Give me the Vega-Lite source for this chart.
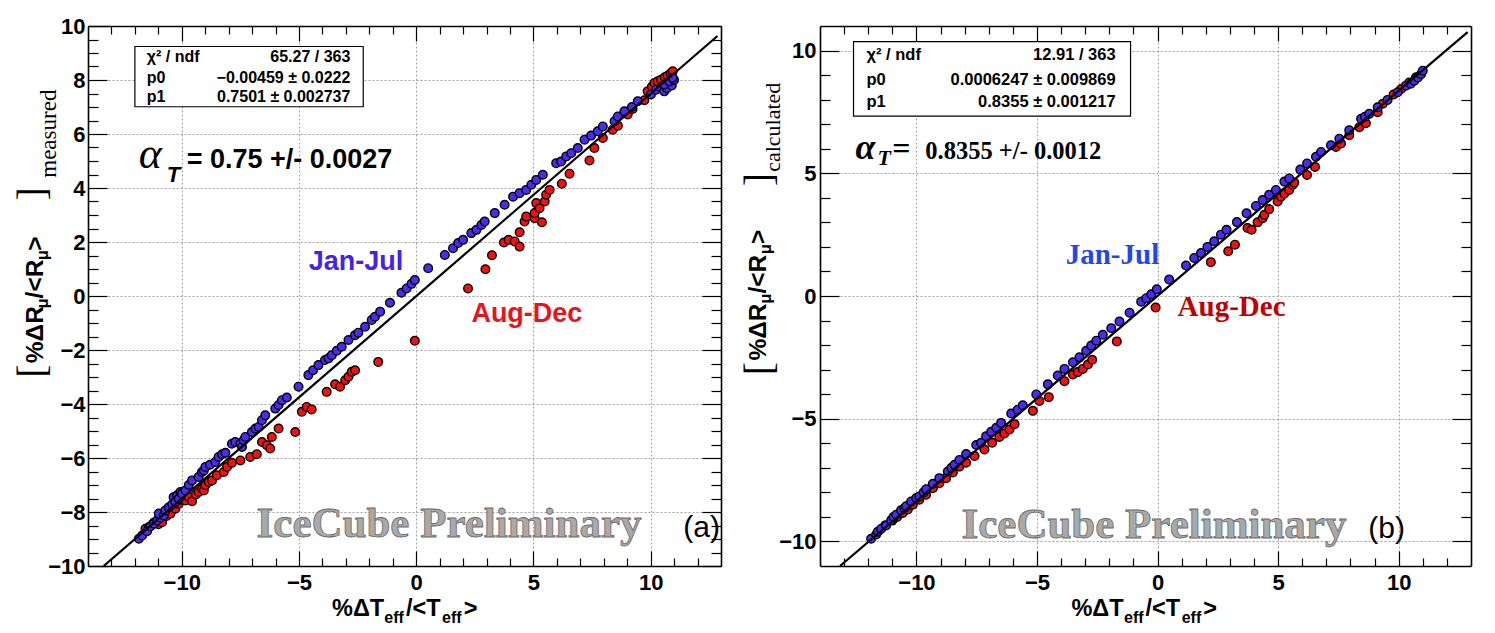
{
  "$schema": "https://vega.github.io/schema/vega-lite/v6.json",
  "padding": {"left": 13, "top": 15, "right": 5, "bottom": 5},
  "bounds": "flush",
  "spacing": 99,
  "config": {
    "view": {"stroke": null},
    "font": "Liberation Sans",
    "axis": {
      "domainColor": "black",
      "domainWidth": 1.6,
      "tickColor": "black",
      "tickWidth": 1.2,
      "labelColor": "black",
      "labelFont": "Liberation Sans",
      "labelFontWeight": "bold",
      "labelFontSize": 22,
      "labelFlush": false,
      "labelOverlap": false,
      "labelBound": false,
      "grid": false,
      "gridColor": "#a0a0a0",
      "gridDash": [2, 2],
      "gridWidth": 1
    }
  },
  "datasets": {
    "points_a": [
      {"x": -11.55, "y": -8.62, "period": "Aug-Dec"},
      {"x": -11.4, "y": -8.56, "period": "Aug-Dec"},
      {"x": -11.2, "y": -8.4, "period": "Aug-Dec"},
      {"x": -11.0, "y": -8.45, "period": "Aug-Dec"},
      {"x": -10.84, "y": -8.38, "period": "Aug-Dec"},
      {"x": -10.65, "y": -8.15, "period": "Aug-Dec"},
      {"x": -10.48, "y": -8.06, "period": "Aug-Dec"},
      {"x": -10.27, "y": -7.88, "period": "Aug-Dec"},
      {"x": -10.13, "y": -7.69, "period": "Aug-Dec"},
      {"x": -10.0, "y": -7.55, "period": "Aug-Dec"},
      {"x": -9.84, "y": -7.57, "period": "Aug-Dec"},
      {"x": -9.7, "y": -7.45, "period": "Aug-Dec"},
      {"x": -9.56, "y": -7.6, "period": "Aug-Dec"},
      {"x": -9.4, "y": -7.35, "period": "Aug-Dec"},
      {"x": -9.28, "y": -7.26, "period": "Aug-Dec"},
      {"x": -9.14, "y": -7.14, "period": "Aug-Dec"},
      {"x": -9.06, "y": -7.2, "period": "Aug-Dec"},
      {"x": -8.99, "y": -7.01, "period": "Aug-Dec"},
      {"x": -8.85, "y": -6.89, "period": "Aug-Dec"},
      {"x": -8.71, "y": -6.83, "period": "Aug-Dec"},
      {"x": -8.5, "y": -6.64, "period": "Aug-Dec"},
      {"x": -8.21, "y": -6.52, "period": "Aug-Dec"},
      {"x": -8.07, "y": -6.33, "period": "Aug-Dec"},
      {"x": -7.86, "y": -6.18, "period": "Aug-Dec"},
      {"x": -7.5, "y": -6.09, "period": "Aug-Dec"},
      {"x": -7.08, "y": -5.96, "period": "Aug-Dec"},
      {"x": -6.8, "y": -5.86, "period": "Aug-Dec"},
      {"x": -6.58, "y": -5.41, "period": "Aug-Dec"},
      {"x": -6.37, "y": -5.53, "period": "Aug-Dec"},
      {"x": -6.23, "y": -5.65, "period": "Aug-Dec"},
      {"x": -6.16, "y": -5.22, "period": "Aug-Dec"},
      {"x": -5.87, "y": -4.91, "period": "Aug-Dec"},
      {"x": -5.16, "y": -5.04, "period": "Aug-Dec"},
      {"x": -4.88, "y": -4.29, "period": "Aug-Dec"},
      {"x": -4.67, "y": -4.11, "period": "Aug-Dec"},
      {"x": -4.46, "y": -4.2, "period": "Aug-Dec"},
      {"x": -3.82, "y": -3.55, "period": "Aug-Dec"},
      {"x": -3.46, "y": -3.27, "period": "Aug-Dec"},
      {"x": -3.25, "y": -3.36, "period": "Aug-Dec"},
      {"x": -3.03, "y": -3.12, "period": "Aug-Dec"},
      {"x": -2.89, "y": -2.99, "period": "Aug-Dec"},
      {"x": -2.75, "y": -2.81, "period": "Aug-Dec"},
      {"x": -2.61, "y": -2.75, "period": "Aug-Dec"},
      {"x": -1.62, "y": -2.44, "period": "Aug-Dec"},
      {"x": -0.06, "y": -1.66, "period": "Aug-Dec"},
      {"x": 2.21, "y": 0.28, "period": "Aug-Dec"},
      {"x": 2.95, "y": 0.99, "period": "Aug-Dec"},
      {"x": 3.23, "y": 1.51, "period": "Aug-Dec"},
      {"x": 3.74, "y": 1.98, "period": "Aug-Dec"},
      {"x": 3.94, "y": 2.08, "period": "Aug-Dec"},
      {"x": 4.2, "y": 2.02, "period": "Aug-Dec"},
      {"x": 4.41, "y": 1.83, "period": "Aug-Dec"},
      {"x": 4.41, "y": 2.36, "period": "Aug-Dec"},
      {"x": 4.62, "y": 2.76, "period": "Aug-Dec"},
      {"x": 4.69, "y": 2.94, "period": "Aug-Dec"},
      {"x": 5.05, "y": 2.88, "period": "Aug-Dec"},
      {"x": 5.05, "y": 3.07, "period": "Aug-Dec"},
      {"x": 5.36, "y": 2.73, "period": "Aug-Dec"},
      {"x": 5.12, "y": 3.44, "period": "Aug-Dec"},
      {"x": 5.26, "y": 3.25, "period": "Aug-Dec"},
      {"x": 5.48, "y": 3.5, "period": "Aug-Dec"},
      {"x": 5.54, "y": 3.75, "period": "Aug-Dec"},
      {"x": 5.69, "y": 3.93, "period": "Aug-Dec"},
      {"x": 6.21, "y": 4.16, "period": "Aug-Dec"},
      {"x": 6.54, "y": 4.53, "period": "Aug-Dec"},
      {"x": 7.39, "y": 5.02, "period": "Aug-Dec"},
      {"x": 7.6, "y": 5.48, "period": "Aug-Dec"},
      {"x": 7.96, "y": 5.85, "period": "Aug-Dec"},
      {"x": 8.38, "y": 6.16, "period": "Aug-Dec"},
      {"x": 8.6, "y": 6.31, "period": "Aug-Dec"},
      {"x": 9.02, "y": 6.72, "period": "Aug-Dec"},
      {"x": 9.23, "y": 6.93, "period": "Aug-Dec"},
      {"x": 9.73, "y": 7.25, "period": "Aug-Dec"},
      {"x": 9.87, "y": 7.58, "period": "Aug-Dec"},
      {"x": 10.05, "y": 7.75, "period": "Aug-Dec"},
      {"x": 10.16, "y": 7.89, "period": "Aug-Dec"},
      {"x": 10.3, "y": 7.95, "period": "Aug-Dec"},
      {"x": 10.44, "y": 8.01, "period": "Aug-Dec"},
      {"x": 10.6, "y": 8.1, "period": "Aug-Dec"},
      {"x": 10.72, "y": 8.16, "period": "Aug-Dec"},
      {"x": 10.85, "y": 8.25, "period": "Aug-Dec"},
      {"x": 10.94, "y": 8.32, "period": "Aug-Dec"},
      {"x": -11.83, "y": -8.99, "period": "Jan-Jul"},
      {"x": -11.69, "y": -8.87, "period": "Jan-Jul"},
      {"x": -11.48, "y": -8.71, "period": "Jan-Jul"},
      {"x": -11.33, "y": -8.53, "period": "Jan-Jul"},
      {"x": -11.19, "y": -8.43, "period": "Jan-Jul"},
      {"x": -11.05, "y": -8.31, "period": "Jan-Jul"},
      {"x": -10.91, "y": -8.21, "period": "Jan-Jul"},
      {"x": -10.98, "y": -8.06, "period": "Jan-Jul"},
      {"x": -10.77, "y": -8.13, "period": "Jan-Jul"},
      {"x": -10.7, "y": -7.94, "period": "Jan-Jul"},
      {"x": -10.55, "y": -7.82, "period": "Jan-Jul"},
      {"x": -10.41, "y": -7.72, "period": "Jan-Jul"},
      {"x": -10.35, "y": -7.45, "period": "Jan-Jul"},
      {"x": -10.27, "y": -7.63, "period": "Jan-Jul"},
      {"x": -10.2, "y": -7.38, "period": "Jan-Jul"},
      {"x": -10.13, "y": -7.51, "period": "Jan-Jul"},
      {"x": -10.06, "y": -7.26, "period": "Jan-Jul"},
      {"x": -9.99, "y": -7.32, "period": "Jan-Jul"},
      {"x": -9.84, "y": -7.2, "period": "Jan-Jul"},
      {"x": -9.7, "y": -7.0, "period": "Jan-Jul"},
      {"x": -9.56, "y": -6.83, "period": "Jan-Jul"},
      {"x": -9.28, "y": -6.7, "period": "Jan-Jul"},
      {"x": -9.14, "y": -6.52, "period": "Jan-Jul"},
      {"x": -9.06, "y": -6.46, "period": "Jan-Jul"},
      {"x": -8.99, "y": -6.33, "period": "Jan-Jul"},
      {"x": -8.8, "y": -6.25, "period": "Jan-Jul"},
      {"x": -8.57, "y": -6.15, "period": "Jan-Jul"},
      {"x": -8.43, "y": -5.96, "period": "Jan-Jul"},
      {"x": -8.28, "y": -5.86, "period": "Jan-Jul"},
      {"x": -8.14, "y": -5.81, "period": "Jan-Jul"},
      {"x": -7.86, "y": -5.47, "period": "Jan-Jul"},
      {"x": -7.72, "y": -5.41, "period": "Jan-Jul"},
      {"x": -7.5, "y": -5.47, "period": "Jan-Jul"},
      {"x": -7.43, "y": -5.59, "period": "Jan-Jul"},
      {"x": -7.36, "y": -5.34, "period": "Jan-Jul"},
      {"x": -7.29, "y": -5.22, "period": "Jan-Jul"},
      {"x": -7.01, "y": -5.04, "period": "Jan-Jul"},
      {"x": -6.86, "y": -4.91, "period": "Jan-Jul"},
      {"x": -6.72, "y": -4.85, "period": "Jan-Jul"},
      {"x": -6.58, "y": -4.6, "period": "Jan-Jul"},
      {"x": -6.44, "y": -4.42, "period": "Jan-Jul"},
      {"x": -6.01, "y": -4.17, "period": "Jan-Jul"},
      {"x": -5.87, "y": -4.04, "period": "Jan-Jul"},
      {"x": -5.73, "y": -3.86, "period": "Jan-Jul"},
      {"x": -5.52, "y": -3.76, "period": "Jan-Jul"},
      {"x": -5.02, "y": -3.36, "period": "Jan-Jul"},
      {"x": -4.6, "y": -2.93, "period": "Jan-Jul"},
      {"x": -4.4, "y": -2.75, "period": "Jan-Jul"},
      {"x": -4.17, "y": -2.56, "period": "Jan-Jul"},
      {"x": -3.89, "y": -2.37, "period": "Jan-Jul"},
      {"x": -3.74, "y": -2.31, "period": "Jan-Jul"},
      {"x": -3.6, "y": -2.19, "period": "Jan-Jul"},
      {"x": -3.39, "y": -2.03, "period": "Jan-Jul"},
      {"x": -3.18, "y": -1.88, "period": "Jan-Jul"},
      {"x": -2.89, "y": -1.63, "period": "Jan-Jul"},
      {"x": -2.61, "y": -1.45, "period": "Jan-Jul"},
      {"x": -2.47, "y": -1.36, "period": "Jan-Jul"},
      {"x": -2.18, "y": -1.14, "period": "Jan-Jul"},
      {"x": -1.9, "y": -0.89, "period": "Jan-Jul"},
      {"x": -1.76, "y": -0.77, "period": "Jan-Jul"},
      {"x": -1.54, "y": -0.58, "period": "Jan-Jul"},
      {"x": -1.12, "y": -0.25, "period": "Jan-Jul"},
      {"x": -0.63, "y": 0.12, "period": "Jan-Jul"},
      {"x": -0.41, "y": 0.28, "period": "Jan-Jul"},
      {"x": -0.2, "y": 0.45, "period": "Jan-Jul"},
      {"x": -0.06, "y": 0.59, "period": "Jan-Jul"},
      {"x": 0.51, "y": 1.03, "period": "Jan-Jul"},
      {"x": 1.22, "y": 1.52, "period": "Jan-Jul"},
      {"x": 1.57, "y": 1.77, "period": "Jan-Jul"},
      {"x": 1.79, "y": 1.96, "period": "Jan-Jul"},
      {"x": 2.0, "y": 2.08, "period": "Jan-Jul"},
      {"x": 2.35, "y": 2.33, "period": "Jan-Jul"},
      {"x": 2.57, "y": 2.45, "period": "Jan-Jul"},
      {"x": 2.78, "y": 2.63, "period": "Jan-Jul"},
      {"x": 2.92, "y": 2.76, "period": "Jan-Jul"},
      {"x": 3.35, "y": 3.07, "period": "Jan-Jul"},
      {"x": 3.77, "y": 3.38, "period": "Jan-Jul"},
      {"x": 4.13, "y": 3.68, "period": "Jan-Jul"},
      {"x": 4.41, "y": 3.81, "period": "Jan-Jul"},
      {"x": 4.69, "y": 3.93, "period": "Jan-Jul"},
      {"x": 4.91, "y": 4.12, "period": "Jan-Jul"},
      {"x": 5.12, "y": 4.3, "period": "Jan-Jul"},
      {"x": 5.4, "y": 4.49, "period": "Jan-Jul"},
      {"x": 5.97, "y": 4.92, "period": "Jan-Jul"},
      {"x": 6.18, "y": 4.98, "period": "Jan-Jul"},
      {"x": 6.4, "y": 5.17, "period": "Jan-Jul"},
      {"x": 6.61, "y": 5.29, "period": "Jan-Jul"},
      {"x": 6.89, "y": 5.48, "period": "Jan-Jul"},
      {"x": 7.18, "y": 5.79, "period": "Jan-Jul"},
      {"x": 7.46, "y": 5.94, "period": "Jan-Jul"},
      {"x": 7.74, "y": 6.1, "period": "Jan-Jul"},
      {"x": 7.96, "y": 6.28, "period": "Jan-Jul"},
      {"x": 8.46, "y": 6.47, "period": "Jan-Jul"},
      {"x": 8.6, "y": 6.65, "period": "Jan-Jul"},
      {"x": 8.88, "y": 6.84, "period": "Jan-Jul"},
      {"x": 9.2, "y": 7.0, "period": "Jan-Jul"},
      {"x": 9.45, "y": 7.21, "period": "Jan-Jul"},
      {"x": 10.01, "y": 7.46, "period": "Jan-Jul"},
      {"x": 10.23, "y": 7.64, "period": "Jan-Jul"},
      {"x": 10.44, "y": 7.71, "period": "Jan-Jul"},
      {"x": 10.58, "y": 7.58, "period": "Jan-Jul"},
      {"x": 10.7, "y": 7.7, "period": "Jan-Jul"},
      {"x": 10.58, "y": 7.83, "period": "Jan-Jul"},
      {"x": 10.9, "y": 7.8, "period": "Jan-Jul"},
      {"x": 10.8, "y": 7.95, "period": "Jan-Jul"},
      {"x": 11.0, "y": 8.0, "period": "Jan-Jul"},
      {"x": 10.94, "y": 8.08, "period": "Jan-Jul"}
    ],
    "points_b": [
      {"x": -11.3, "y": -9.35, "period": "Aug-Dec"},
      {"x": -11.0, "y": -9.15, "period": "Aug-Dec"},
      {"x": -10.8, "y": -9.0, "period": "Aug-Dec"},
      {"x": -10.57, "y": -8.84, "period": "Aug-Dec"},
      {"x": -10.36, "y": -8.7, "period": "Aug-Dec"},
      {"x": -10.15, "y": -8.5, "period": "Aug-Dec"},
      {"x": -9.88, "y": -8.3, "period": "Aug-Dec"},
      {"x": -9.6, "y": -8.1, "period": "Aug-Dec"},
      {"x": -9.32, "y": -7.83, "period": "Aug-Dec"},
      {"x": -9.05, "y": -7.63, "period": "Aug-Dec"},
      {"x": -8.77, "y": -7.42, "period": "Aug-Dec"},
      {"x": -8.49, "y": -7.19, "period": "Aug-Dec"},
      {"x": -8.22, "y": -6.95, "period": "Aug-Dec"},
      {"x": -7.94, "y": -6.79, "period": "Aug-Dec"},
      {"x": -7.59, "y": -6.52, "period": "Aug-Dec"},
      {"x": -7.18, "y": -6.25, "period": "Aug-Dec"},
      {"x": -6.86, "y": -5.98, "period": "Aug-Dec"},
      {"x": -6.56, "y": -5.74, "period": "Aug-Dec"},
      {"x": -6.35, "y": -5.6, "period": "Aug-Dec"},
      {"x": -6.14, "y": -5.44, "period": "Aug-Dec"},
      {"x": -5.93, "y": -5.22, "period": "Aug-Dec"},
      {"x": -5.17, "y": -4.68, "period": "Aug-Dec"},
      {"x": -4.9, "y": -4.28, "period": "Aug-Dec"},
      {"x": -4.51, "y": -4.12, "period": "Aug-Dec"},
      {"x": -3.86, "y": -3.47, "period": "Aug-Dec"},
      {"x": -3.51, "y": -3.2, "period": "Aug-Dec"},
      {"x": -3.31, "y": -3.1, "period": "Aug-Dec"},
      {"x": -3.1, "y": -2.97, "period": "Aug-Dec"},
      {"x": -2.89, "y": -2.79, "period": "Aug-Dec"},
      {"x": -2.71, "y": -2.6, "period": "Aug-Dec"},
      {"x": -1.69, "y": -1.85, "period": "Aug-Dec"},
      {"x": -0.08, "y": -0.47, "period": "Aug-Dec"},
      {"x": 2.21, "y": 1.38, "period": "Aug-Dec"},
      {"x": 2.93, "y": 1.82, "period": "Aug-Dec"},
      {"x": 3.21, "y": 2.09, "period": "Aug-Dec"},
      {"x": 3.73, "y": 2.77, "period": "Aug-Dec"},
      {"x": 3.9, "y": 2.7, "period": "Aug-Dec"},
      {"x": 4.15, "y": 3.0, "period": "Aug-Dec"},
      {"x": 4.36, "y": 3.17, "period": "Aug-Dec"},
      {"x": 4.43, "y": 3.31, "period": "Aug-Dec"},
      {"x": 4.63, "y": 3.54, "period": "Aug-Dec"},
      {"x": 4.98, "y": 3.85, "period": "Aug-Dec"},
      {"x": 5.12, "y": 4.05, "period": "Aug-Dec"},
      {"x": 5.26, "y": 4.18, "period": "Aug-Dec"},
      {"x": 5.46, "y": 4.32, "period": "Aug-Dec"},
      {"x": 5.6, "y": 4.52, "period": "Aug-Dec"},
      {"x": 5.67, "y": 4.62, "period": "Aug-Dec"},
      {"x": 6.2, "y": 4.93, "period": "Aug-Dec"},
      {"x": 6.53, "y": 5.26, "period": "Aug-Dec"},
      {"x": 7.4, "y": 6.07, "period": "Aug-Dec"},
      {"x": 7.61, "y": 6.21, "period": "Aug-Dec"},
      {"x": 7.95, "y": 6.55, "period": "Aug-Dec"},
      {"x": 8.37, "y": 6.88, "period": "Aug-Dec"},
      {"x": 8.64, "y": 7.04, "period": "Aug-Dec"},
      {"x": 9.13, "y": 7.49, "period": "Aug-Dec"},
      {"x": 9.34, "y": 7.83, "period": "Aug-Dec"},
      {"x": 9.79, "y": 8.21, "period": "Aug-Dec"},
      {"x": 10.1, "y": 8.43, "period": "Aug-Dec"},
      {"x": 10.44, "y": 8.7, "period": "Aug-Dec"},
      {"x": 10.72, "y": 8.91, "period": "Aug-Dec"},
      {"x": -11.88, "y": -9.89, "period": "Jan-Jul"},
      {"x": -11.67, "y": -9.72, "period": "Jan-Jul"},
      {"x": -11.6, "y": -9.6, "period": "Jan-Jul"},
      {"x": -11.47, "y": -9.49, "period": "Jan-Jul"},
      {"x": -11.26, "y": -9.35, "period": "Jan-Jul"},
      {"x": -11.05, "y": -9.14, "period": "Jan-Jul"},
      {"x": -10.95, "y": -9.0, "period": "Jan-Jul"},
      {"x": -10.84, "y": -8.91, "period": "Jan-Jul"},
      {"x": -10.64, "y": -8.73, "period": "Jan-Jul"},
      {"x": -10.5, "y": -8.65, "period": "Jan-Jul"},
      {"x": -10.43, "y": -8.57, "period": "Jan-Jul"},
      {"x": -10.22, "y": -8.37, "period": "Jan-Jul"},
      {"x": -10.01, "y": -8.23, "period": "Jan-Jul"},
      {"x": -9.88, "y": -8.17, "period": "Jan-Jul"},
      {"x": -9.7, "y": -8.0, "period": "Jan-Jul"},
      {"x": -9.6, "y": -7.87, "period": "Jan-Jul"},
      {"x": -9.32, "y": -7.65, "period": "Jan-Jul"},
      {"x": -9.05, "y": -7.42, "period": "Jan-Jul"},
      {"x": -8.7, "y": -7.15, "period": "Jan-Jul"},
      {"x": -8.55, "y": -7.0, "period": "Jan-Jul"},
      {"x": -8.42, "y": -6.88, "period": "Jan-Jul"},
      {"x": -8.22, "y": -6.68, "period": "Jan-Jul"},
      {"x": -7.94, "y": -6.44, "period": "Jan-Jul"},
      {"x": -7.52, "y": -6.07, "period": "Jan-Jul"},
      {"x": -7.32, "y": -5.98, "period": "Jan-Jul"},
      {"x": -7.11, "y": -5.71, "period": "Jan-Jul"},
      {"x": -6.9, "y": -5.53, "period": "Jan-Jul"},
      {"x": -6.69, "y": -5.37, "period": "Jan-Jul"},
      {"x": -6.49, "y": -5.17, "period": "Jan-Jul"},
      {"x": -6.07, "y": -4.79, "period": "Jan-Jul"},
      {"x": -5.8, "y": -4.63, "period": "Jan-Jul"},
      {"x": -5.59, "y": -4.45, "period": "Jan-Jul"},
      {"x": -5.03, "y": -4.01, "period": "Jan-Jul"},
      {"x": -4.55, "y": -3.6, "period": "Jan-Jul"},
      {"x": -4.14, "y": -3.24, "period": "Jan-Jul"},
      {"x": -3.86, "y": -2.97, "period": "Jan-Jul"},
      {"x": -3.51, "y": -2.7, "period": "Jan-Jul"},
      {"x": -3.24, "y": -2.5, "period": "Jan-Jul"},
      {"x": -2.96, "y": -2.23, "period": "Jan-Jul"},
      {"x": -2.75, "y": -2.02, "period": "Jan-Jul"},
      {"x": -2.54, "y": -1.82, "period": "Jan-Jul"},
      {"x": -2.27, "y": -1.58, "period": "Jan-Jul"},
      {"x": -1.92, "y": -1.31, "period": "Jan-Jul"},
      {"x": -1.58, "y": -1.04, "period": "Jan-Jul"},
      {"x": -1.16, "y": -0.68, "period": "Jan-Jul"},
      {"x": -0.68, "y": -0.23, "period": "Jan-Jul"},
      {"x": -0.47, "y": -0.09, "period": "Jan-Jul"},
      {"x": -0.26, "y": 0.07, "period": "Jan-Jul"},
      {"x": -0.03, "y": 0.27, "period": "Jan-Jul"},
      {"x": 0.48, "y": 0.67, "period": "Jan-Jul"},
      {"x": 1.18, "y": 1.24, "period": "Jan-Jul"},
      {"x": 1.52, "y": 1.55, "period": "Jan-Jul"},
      {"x": 1.8, "y": 1.75, "period": "Jan-Jul"},
      {"x": 2.07, "y": 2.0, "period": "Jan-Jul"},
      {"x": 2.35, "y": 2.23, "period": "Jan-Jul"},
      {"x": 2.63, "y": 2.5, "period": "Jan-Jul"},
      {"x": 2.86, "y": 2.7, "period": "Jan-Jul"},
      {"x": 3.29, "y": 3.01, "period": "Jan-Jul"},
      {"x": 3.69, "y": 3.37, "period": "Jan-Jul"},
      {"x": 4.08, "y": 3.67, "period": "Jan-Jul"},
      {"x": 4.36, "y": 3.91, "period": "Jan-Jul"},
      {"x": 4.63, "y": 4.12, "period": "Jan-Jul"},
      {"x": 4.91, "y": 4.32, "period": "Jan-Jul"},
      {"x": 5.26, "y": 4.66, "period": "Jan-Jul"},
      {"x": 5.46, "y": 4.79, "period": "Jan-Jul"},
      {"x": 5.92, "y": 5.15, "period": "Jan-Jul"},
      {"x": 6.2, "y": 5.4, "period": "Jan-Jul"},
      {"x": 6.57, "y": 5.67, "period": "Jan-Jul"},
      {"x": 6.78, "y": 5.87, "period": "Jan-Jul"},
      {"x": 7.19, "y": 6.14, "period": "Jan-Jul"},
      {"x": 7.54, "y": 6.41, "period": "Jan-Jul"},
      {"x": 7.95, "y": 6.75, "period": "Jan-Jul"},
      {"x": 8.44, "y": 7.22, "period": "Jan-Jul"},
      {"x": 8.6, "y": 7.3, "period": "Jan-Jul"},
      {"x": 8.78, "y": 7.42, "period": "Jan-Jul"},
      {"x": 9.13, "y": 7.69, "period": "Jan-Jul"},
      {"x": 9.54, "y": 7.99, "period": "Jan-Jul"},
      {"x": 9.96, "y": 8.3, "period": "Jan-Jul"},
      {"x": 10.3, "y": 8.57, "period": "Jan-Jul"},
      {"x": 10.5, "y": 8.65, "period": "Jan-Jul"},
      {"x": 10.65, "y": 8.77, "period": "Jan-Jul"},
      {"x": 10.8, "y": 8.9, "period": "Jan-Jul"},
      {"x": 10.93, "y": 9.04, "period": "Jan-Jul"},
      {"x": 11.0, "y": 9.18, "period": "Jan-Jul"}
    ],
    "fit_a": [{"x": -13.33, "y": -10.0}, {"x": 12.85, "y": 9.63}],
    "fit_b": [{"x": -13.17, "y": -11.0}, {"x": 12.86, "y": 10.75}],
    "box_a": [{"x": -12.0, "x2": -2.26, "y": 9.24, "y2": 7.01}],
    "box_b": [{"x": -12.61, "x2": -1.12, "y": 10.36, "y2": 7.33}],
    "notes_a": [
      {"role": "key", "label": "χ² / ndf", "x": -11.49, "y": 8.86},
      {"role": "key", "label": "p0", "x": -11.49, "y": 8.09},
      {"role": "key", "label": "p1", "x": -11.49, "y": 7.38},
      {"role": "val", "label": "65.27 / 363", "x": -2.81, "y": 8.86},
      {"role": "val", "label": "−0.00459 ± 0.0222", "x": -2.81, "y": 8.09},
      {"role": "val", "label": "0.7501 ± 0.002737", "x": -2.81, "y": 7.38},
      {"role": "alpha", "label": "α", "x": -11.83, "y": 4.75},
      {"role": "alphasub", "label": "T", "x": -10.64, "y": 4.23},
      {"role": "alphaval", "label": "= 0.75 +/- 0.0027", "x": -9.79, "y": 4.75},
      {"role": "jan", "label": "Jan-Jul", "x": -2.57, "y": 0.96},
      {"role": "aug", "label": "Aug-Dec", "x": 4.72, "y": -0.96},
      {"role": "ice", "label": "IceCube Preliminary", "x": 1.4, "y": -8.91},
      {"role": "tag", "label": "(a)", "x": 12.17, "y": -8.94},
      {"role": "ytitle", "label": "%ΔR", "x": -15.91, "y": -2.49},
      {"role": "ysub", "label": "μ", "x": -15.7, "y": -0.46},
      {"role": "ytitle", "label": "/<R", "x": -15.91, "y": -0.09},
      {"role": "ysub", "label": "μ", "x": -15.7, "y": 1.32},
      {"role": "ytitle", "label": ">", "x": -15.91, "y": 1.68},
      {"role": "bracket", "label": "[", "x": -15.83, "y": -2.78},
      {"role": "bracket", "label": "]", "x": -15.83, "y": 3.78},
      {"role": "yqual", "label": "measured", "x": -15.36, "y": 4.38},
      {"role": "xtitle", "label": "%ΔT", "x": -3.59, "y": -11.85},
      {"role": "xsub", "label": "eff", "x": -1.36, "y": -12.11},
      {"role": "xtitle", "label": "/<T", "x": -0.44, "y": -11.85},
      {"role": "xsub", "label": "eff", "x": 1.1, "y": -12.11},
      {"role": "xtitle", "label": ">", "x": 2.03, "y": -11.85}
    ],
    "notes_b": [
      {"role": "key", "label": "χ² / ndf", "x": -12.07, "y": 9.8},
      {"role": "key", "label": "p0", "x": -12.07, "y": 8.79},
      {"role": "key", "label": "p1", "x": -12.07, "y": 7.89},
      {"role": "val", "label": "12.91 / 363", "x": -1.74, "y": 9.8},
      {"role": "val", "label": "0.0006247 ± 0.009869", "x": -1.74, "y": 8.79},
      {"role": "val", "label": "0.8355 ± 0.001217", "x": -1.74, "y": 7.89},
      {"role": "alpha", "label": "α", "x": -12.53, "y": 5.59},
      {"role": "alphasub", "label": "T", "x": -11.62, "y": 5.34},
      {"role": "alphaeq", "label": "=", "x": -11.0, "y": 5.59},
      {"role": "alphaval", "label": "0.8355 +/- 0.0012", "x": -9.63, "y": 5.59},
      {"role": "jan", "label": "Jan-Jul", "x": -1.87, "y": 1.3},
      {"role": "aug", "label": "Aug-Dec", "x": 3.07, "y": -0.81},
      {"role": "ice", "label": "IceCube Preliminary", "x": -0.15, "y": -9.84},
      {"role": "tag", "label": "(b)", "x": 9.5, "y": -9.84},
      {"role": "ytitle", "label": "%ΔR", "x": -16.22, "y": -2.63},
      {"role": "ysub", "label": "μ", "x": -16.02, "y": -0.32},
      {"role": "ytitle", "label": "/<R", "x": -16.22, "y": 0.1},
      {"role": "ysub", "label": "μ", "x": -16.02, "y": 1.7},
      {"role": "ytitle", "label": ">", "x": -16.22, "y": 2.12},
      {"role": "bracket", "label": "[", "x": -15.99, "y": -2.96},
      {"role": "bracket", "label": "]", "x": -15.99, "y": 4.74},
      {"role": "yqual", "label": "calculated", "x": -15.64, "y": 5.06},
      {"role": "xtitle", "label": "%ΔT", "x": -3.57, "y": -13.04},
      {"role": "xsub", "label": "eff", "x": -1.39, "y": -13.32},
      {"role": "xtitle", "label": "/<T", "x": -0.5, "y": -13.04},
      {"role": "xsub", "label": "eff", "x": 1.0, "y": -13.32},
      {"role": "xtitle", "label": ">", "x": 1.9, "y": -13.04}
    ]
  },
  "hconcat": [
    {
      "width": 633,
      "height": 540,
      "resolve": {"axis": {"x": "independent", "y": "independent"}},
      "layer": [
        {
          "data": {"name": "points_a"},
          "mark": {"type": "point", "filled": true, "size": 74, "stroke": "black", "strokeWidth": 1.4, "opacity": 1},
          "encoding": {
            "x": {"field": "x", "type": "quantitative", "scale": {"domain": [-14, 13], "nice": false, "zero": false},
              "axis": {"orient": "bottom", "values": [-10, -5, 0, 5, 10], "format": "d", "tickSize": -15, "labelPadding": 21, "grid": true, "title": null}},
            "y": {"field": "y", "type": "quantitative", "scale": {"domain": [-10, 10], "nice": false, "zero": false},
              "axis": {"orient": "left", "values": [-10, -8, -6, -4, -2, 0, 2, 4, 6, 8, 10], "format": "d", "tickSize": -19, "labelPadding": 22, "grid": true, "title": null}},
            "color": {"field": "period", "type": "nominal", "scale": {"domain": ["Jan-Jul", "Aug-Dec"], "range": ["#4a2cf0", "#f51010"]}, "legend": null}
          }
        },
        {
          "data": {"name": "fit_a"},
          "mark": {"type": "line", "color": "black", "strokeWidth": 2.2},
          "encoding": {
            "x": {"field": "x", "type": "quantitative", "scale": {"domain": [-14, 13], "nice": false, "zero": false},
              "axis": {"orient": "bottom", "values": [-13, -12, -11, -9, -8, -7, -6, -4, -3, -2, -1, 1, 2, 3, 4, 6, 7, 8, 9, 11, 12], "tickSize": -8, "labels": false, "domain": false, "title": null}},
            "y": {"field": "y", "type": "quantitative", "scale": {"domain": [-10, 10], "nice": false, "zero": false},
              "axis": {"orient": "left", "values": [-9.5, -9, -8.5, -7.5, -7, -6.5, -5.5, -5, -4.5, -3.5, -3, -2.5, -1.5, -1, -0.5, 0.5, 1, 1.5, 2.5, 3, 3.5, 4.5, 5, 5.5, 6.5, 7, 7.5, 8.5, 9, 9.5], "tickSize": -10, "labels": false, "domain": false, "title": null}}
          }
        },
        {
          "data": {"name": "box_a"},
          "mark": {"type": "rect", "fill": "white", "stroke": "black", "strokeWidth": 1.2},
          "encoding": {
            "x": {"field": "x", "type": "quantitative", "scale": {"domain": [-14, 13], "nice": false, "zero": false},
              "axis": {"orient": "top", "values": [-10, -5, 0, 5, 10], "tickSize": -15, "labels": false, "title": null}},
            "x2": {"field": "x2"},
            "y": {"field": "y", "type": "quantitative", "scale": {"domain": [-10, 10], "nice": false, "zero": false},
              "axis": {"orient": "right", "values": [-10, -8, -6, -4, -2, 0, 2, 4, 6, 8, 10], "tickSize": -19, "labels": false, "title": null}},
            "y2": {"field": "y2"}
          }
        },
        {
          "data": {"name": "notes_a"},
          "transform": [{"filter": "datum.role === 'key'"}],
          "mark": {"type": "text", "align": "left", "baseline": "middle", "font": "Liberation Sans", "fontWeight": "bold", "fontSize": 16},
          "encoding": {
            "x": {"field": "x", "type": "quantitative", "scale": {"domain": [-14, 13], "nice": false, "zero": false},
              "axis": {"orient": "top", "values": [-13, -12, -11, -9, -8, -7, -6, -4, -3, -2, -1, 1, 2, 3, 4, 6, 7, 8, 9, 11, 12], "tickSize": -8, "labels": false, "domain": false, "title": null}},
            "y": {"field": "y", "type": "quantitative", "scale": {"domain": [-10, 10], "nice": false, "zero": false},
              "axis": {"orient": "right", "values": [-9.5, -9, -8.5, -7.5, -7, -6.5, -5.5, -5, -4.5, -3.5, -3, -2.5, -1.5, -1, -0.5, 0.5, 1, 1.5, 2.5, 3, 3.5, 4.5, 5, 5.5, 6.5, 7, 7.5, 8.5, 9, 9.5], "tickSize": -10, "labels": false, "domain": false, "title": null}},
            "text": {"field": "label", "type": "nominal"}
          }
        },
        {
          "data": {"name": "notes_a"},
          "transform": [{"filter": "datum.role === 'val'"}],
          "mark": {"type": "text", "align": "right", "baseline": "middle", "font": "Liberation Sans", "fontWeight": "bold", "fontSize": 16},
          "encoding": {
            "x": {"field": "x", "type": "quantitative", "scale": {"domain": [-14, 13], "nice": false, "zero": false}, "axis": null},
            "y": {"field": "y", "type": "quantitative", "scale": {"domain": [-10, 10], "nice": false, "zero": false}, "axis": null},
            "text": {"field": "label", "type": "nominal"}
          }
        },
        {
          "data": {"name": "notes_a"},
          "transform": [{"filter": "datum.role === 'alpha'"}],
          "mark": {"type": "text", "align": "left", "baseline": "alphabetic", "font": "Liberation Serif", "fontStyle": "italic", "fontSize": 44},
          "encoding": {
            "x": {"field": "x", "type": "quantitative", "scale": {"domain": [-14, 13], "nice": false, "zero": false}, "axis": null},
            "y": {"field": "y", "type": "quantitative", "scale": {"domain": [-10, 10], "nice": false, "zero": false}, "axis": null},
            "text": {"field": "label", "type": "nominal"}
          }
        },
        {
          "data": {"name": "notes_a"},
          "transform": [{"filter": "datum.role === 'alphasub'"}],
          "mark": {"type": "text", "align": "left", "baseline": "alphabetic", "font": "Liberation Sans", "fontStyle": "italic", "fontWeight": "bold", "fontSize": 22},
          "encoding": {
            "x": {"field": "x", "type": "quantitative", "scale": {"domain": [-14, 13], "nice": false, "zero": false}, "axis": null},
            "y": {"field": "y", "type": "quantitative", "scale": {"domain": [-10, 10], "nice": false, "zero": false}, "axis": null},
            "text": {"field": "label", "type": "nominal"}
          }
        },
        {
          "data": {"name": "notes_a"},
          "transform": [{"filter": "datum.role === 'alphaval'"}],
          "mark": {"type": "text", "align": "left", "baseline": "alphabetic", "font": "Liberation Sans", "fontWeight": "bold", "fontSize": 27},
          "encoding": {
            "x": {"field": "x", "type": "quantitative", "scale": {"domain": [-14, 13], "nice": false, "zero": false}, "axis": null},
            "y": {"field": "y", "type": "quantitative", "scale": {"domain": [-10, 10], "nice": false, "zero": false}, "axis": null},
            "text": {"field": "label", "type": "nominal"}
          }
        },
        {
          "data": {"name": "notes_a"},
          "transform": [{"filter": "datum.role === 'jan'"}],
          "mark": {"type": "text", "align": "center", "baseline": "alphabetic", "font": "Liberation Sans", "fontWeight": "bold", "fontSize": 27, "color": "#4422ee"},
          "encoding": {
            "x": {"field": "x", "type": "quantitative", "scale": {"domain": [-14, 13], "nice": false, "zero": false}, "axis": null},
            "y": {"field": "y", "type": "quantitative", "scale": {"domain": [-10, 10], "nice": false, "zero": false}, "axis": null},
            "text": {"field": "label", "type": "nominal"}
          }
        },
        {
          "data": {"name": "notes_a"},
          "transform": [{"filter": "datum.role === 'aug'"}],
          "mark": {"type": "text", "align": "center", "baseline": "alphabetic", "font": "Liberation Sans", "fontWeight": "bold", "fontSize": 27, "color": "#e8141c"},
          "encoding": {
            "x": {"field": "x", "type": "quantitative", "scale": {"domain": [-14, 13], "nice": false, "zero": false}, "axis": null},
            "y": {"field": "y", "type": "quantitative", "scale": {"domain": [-10, 10], "nice": false, "zero": false}, "axis": null},
            "text": {"field": "label", "type": "nominal"}
          }
        },
        {
          "data": {"name": "notes_a"},
          "transform": [{"filter": "datum.role === 'ice'"}],
          "mark": {"type": "text", "align": "center", "baseline": "alphabetic", "font": "Liberation Serif", "fontWeight": "bold", "fontSize": 43, "fill": "#a9a9a9", "stroke": "#6a6a6a", "strokeWidth": 0.8},
          "encoding": {
            "x": {"field": "x", "type": "quantitative", "scale": {"domain": [-14, 13], "nice": false, "zero": false}, "axis": null},
            "y": {"field": "y", "type": "quantitative", "scale": {"domain": [-10, 10], "nice": false, "zero": false}, "axis": null},
            "text": {"field": "label", "type": "nominal"}
          }
        },
        {
          "data": {"name": "notes_a"},
          "transform": [{"filter": "datum.role === 'tag'"}],
          "mark": {"type": "text", "align": "center", "baseline": "alphabetic", "font": "Liberation Sans", "fontSize": 30, "color": "black"},
          "encoding": {
            "x": {"field": "x", "type": "quantitative", "scale": {"domain": [-14, 13], "nice": false, "zero": false}, "axis": null},
            "y": {"field": "y", "type": "quantitative", "scale": {"domain": [-10, 10], "nice": false, "zero": false}, "axis": null},
            "text": {"field": "label", "type": "nominal"}
          }
        },
        {
          "data": {"name": "notes_a"},
          "transform": [{"filter": "datum.role === 'ytitle'"}],
          "mark": {"type": "text", "angle": 270, "align": "left", "baseline": "alphabetic", "font": "Liberation Sans", "fontWeight": "bold", "fontSize": 24.5, "color": "black"},
          "encoding": {
            "x": {"field": "x", "type": "quantitative", "scale": {"domain": [-14, 13], "nice": false, "zero": false}, "axis": null},
            "y": {"field": "y", "type": "quantitative", "scale": {"domain": [-10, 10], "nice": false, "zero": false}, "axis": null},
            "text": {"field": "label", "type": "nominal"}
          }
        },
        {
          "data": {"name": "notes_a"},
          "transform": [{"filter": "datum.role === 'ysub'"}],
          "mark": {"type": "text", "angle": 270, "align": "left", "baseline": "alphabetic", "font": "Liberation Sans", "fontWeight": "bold", "fontSize": 16.5, "color": "black"},
          "encoding": {
            "x": {"field": "x", "type": "quantitative", "scale": {"domain": [-14, 13], "nice": false, "zero": false}, "axis": null},
            "y": {"field": "y", "type": "quantitative", "scale": {"domain": [-10, 10], "nice": false, "zero": false}, "axis": null},
            "text": {"field": "label", "type": "nominal"}
          }
        },
        {
          "data": {"name": "notes_a"},
          "transform": [{"filter": "datum.role === 'bracket'"}],
          "mark": {"type": "text", "angle": 270, "align": "center", "baseline": "alphabetic", "font": "Liberation Serif", "fontSize": 40, "color": "black"},
          "encoding": {
            "x": {"field": "x", "type": "quantitative", "scale": {"domain": [-14, 13], "nice": false, "zero": false}, "axis": null},
            "y": {"field": "y", "type": "quantitative", "scale": {"domain": [-10, 10], "nice": false, "zero": false}, "axis": null},
            "text": {"field": "label", "type": "nominal"}
          }
        },
        {
          "data": {"name": "notes_a"},
          "transform": [{"filter": "datum.role === 'yqual'"}],
          "mark": {"type": "text", "angle": 270, "align": "left", "baseline": "alphabetic", "font": "Liberation Serif", "fontSize": 23, "color": "black"},
          "encoding": {
            "x": {"field": "x", "type": "quantitative", "scale": {"domain": [-14, 13], "nice": false, "zero": false}, "axis": null},
            "y": {"field": "y", "type": "quantitative", "scale": {"domain": [-10, 10], "nice": false, "zero": false}, "axis": null},
            "text": {"field": "label", "type": "nominal"}
          }
        },
        {
          "data": {"name": "notes_a"},
          "transform": [{"filter": "datum.role === 'xtitle'"}],
          "mark": {"type": "text", "align": "left", "baseline": "alphabetic", "font": "Liberation Sans", "fontWeight": "bold", "fontSize": 23.5, "color": "black"},
          "encoding": {
            "x": {"field": "x", "type": "quantitative", "scale": {"domain": [-14, 13], "nice": false, "zero": false}, "axis": null},
            "y": {"field": "y", "type": "quantitative", "scale": {"domain": [-10, 10], "nice": false, "zero": false}, "axis": null},
            "text": {"field": "label", "type": "nominal"}
          }
        },
        {
          "data": {"name": "notes_a"},
          "transform": [{"filter": "datum.role === 'xsub'"}],
          "mark": {"type": "text", "align": "left", "baseline": "alphabetic", "font": "Liberation Sans", "fontWeight": "bold", "fontSize": 16, "color": "black"},
          "encoding": {
            "x": {"field": "x", "type": "quantitative", "scale": {"domain": [-14, 13], "nice": false, "zero": false}, "axis": null},
            "y": {"field": "y", "type": "quantitative", "scale": {"domain": [-10, 10], "nice": false, "zero": false}, "axis": null},
            "text": {"field": "label", "type": "nominal"}
          }
        }
      ]
    },
    {
      "width": 651,
      "height": 540,
      "resolve": {"axis": {"x": "independent", "y": "independent"}},
      "layer": [
        {
          "data": {"name": "points_b"},
          "mark": {"type": "point", "filled": true, "size": 74, "stroke": "black", "strokeWidth": 1.4, "opacity": 1},
          "encoding": {
            "x": {"field": "x", "type": "quantitative", "scale": {"domain": [-14, 13], "nice": false, "zero": false},
              "axis": {"orient": "bottom", "values": [-10, -5, 0, 5, 10], "format": "d", "tickSize": -15, "labelPadding": 21, "grid": true, "title": null}},
            "y": {"field": "y", "type": "quantitative", "scale": {"domain": [-11, 11], "nice": false, "zero": false},
              "axis": {"orient": "left", "values": [-10, -5, 0, 5, 10], "format": "d", "tickSize": -19, "labelPadding": 23, "grid": true, "title": null}},
            "color": {"field": "period", "type": "nominal", "scale": {"domain": ["Jan-Jul", "Aug-Dec"], "range": ["#4a2cf0", "#f51010"]}, "legend": null}
          }
        },
        {
          "data": {"name": "fit_b"},
          "mark": {"type": "line", "color": "black", "strokeWidth": 2.2},
          "encoding": {
            "x": {"field": "x", "type": "quantitative", "scale": {"domain": [-14, 13], "nice": false, "zero": false},
              "axis": {"orient": "bottom", "values": [-13, -12, -11, -9, -8, -7, -6, -4, -3, -2, -1, 1, 2, 3, 4, 6, 7, 8, 9, 11, 12], "tickSize": -8, "labels": false, "domain": false, "title": null}},
            "y": {"field": "y", "type": "quantitative", "scale": {"domain": [-11, 11], "nice": false, "zero": false},
              "axis": {"orient": "left", "values": [-9, -8, -7, -6, -4, -3, -2, -1, 1, 2, 3, 4, 6, 7, 8, 9], "tickSize": -10, "labels": false, "domain": false, "title": null}}
          }
        },
        {
          "data": {"name": "box_b"},
          "mark": {"type": "rect", "fill": "white", "stroke": "black", "strokeWidth": 1.2},
          "encoding": {
            "x": {"field": "x", "type": "quantitative", "scale": {"domain": [-14, 13], "nice": false, "zero": false},
              "axis": {"orient": "top", "values": [-10, -5, 0, 5, 10], "tickSize": -15, "labels": false, "title": null}},
            "x2": {"field": "x2"},
            "y": {"field": "y", "type": "quantitative", "scale": {"domain": [-11, 11], "nice": false, "zero": false},
              "axis": {"orient": "right", "values": [-10, -5, 0, 5, 10], "tickSize": -19, "labels": false, "title": null}},
            "y2": {"field": "y2"}
          }
        },
        {
          "data": {"name": "notes_b"},
          "transform": [{"filter": "datum.role === 'key'"}],
          "mark": {"type": "text", "align": "left", "baseline": "middle", "font": "Liberation Sans", "fontWeight": "bold", "fontSize": 16.5},
          "encoding": {
            "x": {"field": "x", "type": "quantitative", "scale": {"domain": [-14, 13], "nice": false, "zero": false},
              "axis": {"orient": "top", "values": [-13, -12, -11, -9, -8, -7, -6, -4, -3, -2, -1, 1, 2, 3, 4, 6, 7, 8, 9, 11, 12], "tickSize": -8, "labels": false, "domain": false, "title": null}},
            "y": {"field": "y", "type": "quantitative", "scale": {"domain": [-11, 11], "nice": false, "zero": false},
              "axis": {"orient": "right", "values": [-9, -8, -7, -6, -4, -3, -2, -1, 1, 2, 3, 4, 6, 7, 8, 9], "tickSize": -10, "labels": false, "domain": false, "title": null}},
            "text": {"field": "label", "type": "nominal"}
          }
        },
        {
          "data": {"name": "notes_b"},
          "transform": [{"filter": "datum.role === 'val'"}],
          "mark": {"type": "text", "align": "right", "baseline": "middle", "font": "Liberation Sans", "fontWeight": "bold", "fontSize": 16.5},
          "encoding": {
            "x": {"field": "x", "type": "quantitative", "scale": {"domain": [-14, 13], "nice": false, "zero": false}, "axis": null},
            "y": {"field": "y", "type": "quantitative", "scale": {"domain": [-11, 11], "nice": false, "zero": false}, "axis": null},
            "text": {"field": "label", "type": "nominal"}
          }
        },
        {
          "data": {"name": "notes_b"},
          "transform": [{"filter": "datum.role === 'alpha'"}],
          "mark": {"type": "text", "align": "left", "baseline": "alphabetic", "font": "Liberation Serif", "fontStyle": "italic", "fontWeight": "bold", "fontSize": 36},
          "encoding": {
            "x": {"field": "x", "type": "quantitative", "scale": {"domain": [-14, 13], "nice": false, "zero": false}, "axis": null},
            "y": {"field": "y", "type": "quantitative", "scale": {"domain": [-11, 11], "nice": false, "zero": false}, "axis": null},
            "text": {"field": "label", "type": "nominal"}
          }
        },
        {
          "data": {"name": "notes_b"},
          "transform": [{"filter": "datum.role === 'alphasub'"}],
          "mark": {"type": "text", "align": "left", "baseline": "alphabetic", "font": "Liberation Serif", "fontStyle": "italic", "fontWeight": "bold", "fontSize": 22},
          "encoding": {
            "x": {"field": "x", "type": "quantitative", "scale": {"domain": [-14, 13], "nice": false, "zero": false}, "axis": null},
            "y": {"field": "y", "type": "quantitative", "scale": {"domain": [-11, 11], "nice": false, "zero": false}, "axis": null},
            "text": {"field": "label", "type": "nominal"}
          }
        },
        {
          "data": {"name": "notes_b"},
          "transform": [{"filter": "datum.role === 'alphaeq'"}],
          "mark": {"type": "text", "align": "left", "baseline": "alphabetic", "font": "Liberation Serif", "fontWeight": "bold", "fontSize": 32},
          "encoding": {
            "x": {"field": "x", "type": "quantitative", "scale": {"domain": [-14, 13], "nice": false, "zero": false}, "axis": null},
            "y": {"field": "y", "type": "quantitative", "scale": {"domain": [-11, 11], "nice": false, "zero": false}, "axis": null},
            "text": {"field": "label", "type": "nominal"}
          }
        },
        {
          "data": {"name": "notes_b"},
          "transform": [{"filter": "datum.role === 'alphaval'"}],
          "mark": {"type": "text", "align": "left", "baseline": "alphabetic", "font": "Liberation Serif", "fontWeight": "bold", "fontSize": 24.5},
          "encoding": {
            "x": {"field": "x", "type": "quantitative", "scale": {"domain": [-14, 13], "nice": false, "zero": false}, "axis": null},
            "y": {"field": "y", "type": "quantitative", "scale": {"domain": [-11, 11], "nice": false, "zero": false}, "axis": null},
            "text": {"field": "label", "type": "nominal"}
          }
        },
        {
          "data": {"name": "notes_b"},
          "transform": [{"filter": "datum.role === 'jan'"}],
          "mark": {"type": "text", "align": "center", "baseline": "alphabetic", "font": "Liberation Serif", "fontWeight": "bold", "fontSize": 29, "color": "#2447e6"},
          "encoding": {
            "x": {"field": "x", "type": "quantitative", "scale": {"domain": [-14, 13], "nice": false, "zero": false}, "axis": null},
            "y": {"field": "y", "type": "quantitative", "scale": {"domain": [-11, 11], "nice": false, "zero": false}, "axis": null},
            "text": {"field": "label", "type": "nominal"}
          }
        },
        {
          "data": {"name": "notes_b"},
          "transform": [{"filter": "datum.role === 'aug'"}],
          "mark": {"type": "text", "align": "center", "baseline": "alphabetic", "font": "Liberation Serif", "fontWeight": "bold", "fontSize": 29, "color": "#c00000"},
          "encoding": {
            "x": {"field": "x", "type": "quantitative", "scale": {"domain": [-14, 13], "nice": false, "zero": false}, "axis": null},
            "y": {"field": "y", "type": "quantitative", "scale": {"domain": [-11, 11], "nice": false, "zero": false}, "axis": null},
            "text": {"field": "label", "type": "nominal"}
          }
        },
        {
          "data": {"name": "notes_b"},
          "transform": [{"filter": "datum.role === 'ice'"}],
          "mark": {"type": "text", "align": "center", "baseline": "alphabetic", "font": "Liberation Serif", "fontWeight": "bold", "fontSize": 43, "fill": "#a9a9a9", "stroke": "#6a6a6a", "strokeWidth": 0.8},
          "encoding": {
            "x": {"field": "x", "type": "quantitative", "scale": {"domain": [-14, 13], "nice": false, "zero": false}, "axis": null},
            "y": {"field": "y", "type": "quantitative", "scale": {"domain": [-11, 11], "nice": false, "zero": false}, "axis": null},
            "text": {"field": "label", "type": "nominal"}
          }
        },
        {
          "data": {"name": "notes_b"},
          "transform": [{"filter": "datum.role === 'tag'"}],
          "mark": {"type": "text", "align": "center", "baseline": "alphabetic", "font": "Liberation Sans", "fontSize": 30, "color": "black"},
          "encoding": {
            "x": {"field": "x", "type": "quantitative", "scale": {"domain": [-14, 13], "nice": false, "zero": false}, "axis": null},
            "y": {"field": "y", "type": "quantitative", "scale": {"domain": [-11, 11], "nice": false, "zero": false}, "axis": null},
            "text": {"field": "label", "type": "nominal"}
          }
        },
        {
          "data": {"name": "notes_b"},
          "transform": [{"filter": "datum.role === 'ytitle'"}],
          "mark": {"type": "text", "angle": 270, "align": "left", "baseline": "alphabetic", "font": "Liberation Sans", "fontWeight": "bold", "fontSize": 24.5, "color": "black"},
          "encoding": {
            "x": {"field": "x", "type": "quantitative", "scale": {"domain": [-14, 13], "nice": false, "zero": false}, "axis": null},
            "y": {"field": "y", "type": "quantitative", "scale": {"domain": [-11, 11], "nice": false, "zero": false}, "axis": null},
            "text": {"field": "label", "type": "nominal"}
          }
        },
        {
          "data": {"name": "notes_b"},
          "transform": [{"filter": "datum.role === 'ysub'"}],
          "mark": {"type": "text", "angle": 270, "align": "left", "baseline": "alphabetic", "font": "Liberation Sans", "fontWeight": "bold", "fontSize": 16.5, "color": "black"},
          "encoding": {
            "x": {"field": "x", "type": "quantitative", "scale": {"domain": [-14, 13], "nice": false, "zero": false}, "axis": null},
            "y": {"field": "y", "type": "quantitative", "scale": {"domain": [-11, 11], "nice": false, "zero": false}, "axis": null},
            "text": {"field": "label", "type": "nominal"}
          }
        },
        {
          "data": {"name": "notes_b"},
          "transform": [{"filter": "datum.role === 'bracket'"}],
          "mark": {"type": "text", "angle": 270, "align": "center", "baseline": "alphabetic", "font": "Liberation Serif", "fontSize": 40, "color": "black"},
          "encoding": {
            "x": {"field": "x", "type": "quantitative", "scale": {"domain": [-14, 13], "nice": false, "zero": false}, "axis": null},
            "y": {"field": "y", "type": "quantitative", "scale": {"domain": [-11, 11], "nice": false, "zero": false}, "axis": null},
            "text": {"field": "label", "type": "nominal"}
          }
        },
        {
          "data": {"name": "notes_b"},
          "transform": [{"filter": "datum.role === 'yqual'"}],
          "mark": {"type": "text", "angle": 270, "align": "left", "baseline": "alphabetic", "font": "Liberation Serif", "fontSize": 22, "color": "black"},
          "encoding": {
            "x": {"field": "x", "type": "quantitative", "scale": {"domain": [-14, 13], "nice": false, "zero": false}, "axis": null},
            "y": {"field": "y", "type": "quantitative", "scale": {"domain": [-11, 11], "nice": false, "zero": false}, "axis": null},
            "text": {"field": "label", "type": "nominal"}
          }
        },
        {
          "data": {"name": "notes_b"},
          "transform": [{"filter": "datum.role === 'xtitle'"}],
          "mark": {"type": "text", "align": "left", "baseline": "alphabetic", "font": "Liberation Sans", "fontWeight": "bold", "fontSize": 23.5, "color": "black"},
          "encoding": {
            "x": {"field": "x", "type": "quantitative", "scale": {"domain": [-14, 13], "nice": false, "zero": false}, "axis": null},
            "y": {"field": "y", "type": "quantitative", "scale": {"domain": [-11, 11], "nice": false, "zero": false}, "axis": null},
            "text": {"field": "label", "type": "nominal"}
          }
        },
        {
          "data": {"name": "notes_b"},
          "transform": [{"filter": "datum.role === 'xsub'"}],
          "mark": {"type": "text", "align": "left", "baseline": "alphabetic", "font": "Liberation Sans", "fontWeight": "bold", "fontSize": 16, "color": "black"},
          "encoding": {
            "x": {"field": "x", "type": "quantitative", "scale": {"domain": [-14, 13], "nice": false, "zero": false}, "axis": null},
            "y": {"field": "y", "type": "quantitative", "scale": {"domain": [-11, 11], "nice": false, "zero": false}, "axis": null},
            "text": {"field": "label", "type": "nominal"}
          }
        }
      ]
    }
  ]
}
